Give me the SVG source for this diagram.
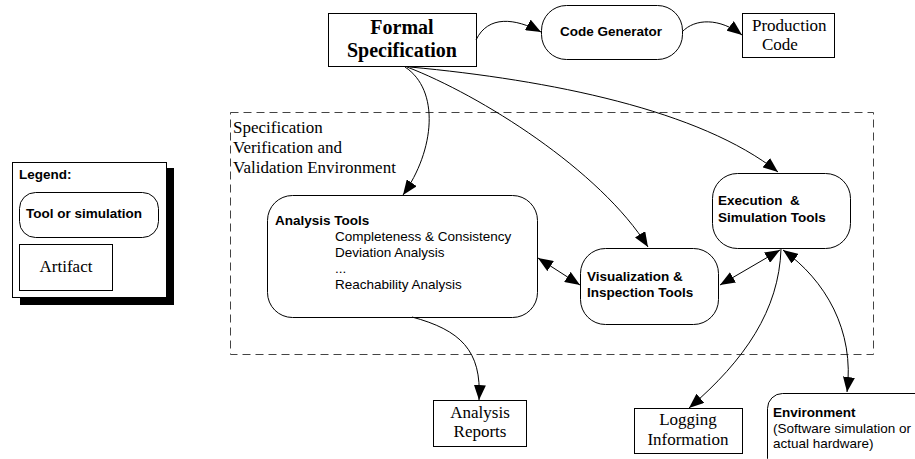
<svg xmlns="http://www.w3.org/2000/svg" width="915" height="459" viewBox="0 0 915 459">
<style>
.box{fill:#fff;stroke:#000;stroke-width:1}
.serif{font-family:"Liberation Serif","Times New Roman",serif;font-size:17px;fill:#000}
.sans{font-family:"Liberation Sans",Arial,sans-serif;font-size:13.5px;fill:#000}
.b{font-weight:bold}
.c{text-anchor:middle}
.edge{fill:none;stroke:#000;stroke-width:1}
</style>
<defs>
<marker id="ah" markerUnits="userSpaceOnUse" markerWidth="16" markerHeight="12" refX="15" refY="6" orient="auto-start-reverse" viewBox="0 0 16 12">
<path d="M0,0 L15,6 L0,12 z" fill="#000"/>
</marker>
</defs>
<rect width="915" height="459" fill="#fff"/>

<g id="container">
<rect x="230.5" y="112.5" width="643" height="242" fill="none" stroke="#444" stroke-dasharray="8,5"/>
<text class="serif" x="233" y="133">Specification</text>
<text class="serif" x="233" y="153">Verification and</text>
<text class="serif" x="233" y="173">Validation Environment</text>
</g>

<g id="legend">
<rect x="20" y="168" width="154" height="137" fill="#000"/>
<rect class="box" x="12.5" y="162.5" width="154" height="135"/>
<text class="sans b" x="19" y="179">Legend:</text>
<rect class="box" x="19.5" y="192.5" width="139" height="45" rx="16"/>
<text class="sans b" x="26" y="218">Tool or simulation</text>
<rect class="box" x="19.5" y="244.5" width="93" height="46"/>
<text class="serif c" x="66" y="272">Artifact</text>
</g>

<g id="formal-spec">
<rect class="box" x="328.5" y="13.5" width="148" height="53"/>
<text class="serif b c" x="402" y="34" style="font-size:20px">Formal</text>
<text class="serif b c" x="402" y="57" style="font-size:20px">Specification</text>
</g>

<g id="code-generator">
<rect class="box" x="541.5" y="5.5" width="141" height="54" rx="25"/>
<text class="sans b c" x="611" y="36">Code Generator</text>
</g>

<g id="production-code">
<rect class="box" x="742.5" y="13.5" width="92" height="44"/>
<text class="serif" x="752" y="31">Production</text>
<text class="serif" x="762" y="50">Code</text>
</g>

<g id="analysis-tools">
<rect class="box" x="267.5" y="195.5" width="270" height="122" rx="25"/>
<text class="sans b" x="275" y="225">Analysis Tools</text>
<text class="sans" x="335" y="241">Completeness &amp; Consistency</text>
<text class="sans" x="335" y="257">Deviation Analysis</text>
<text class="sans" x="335" y="273">...</text>
<text class="sans" x="335" y="289">Reachability Analysis</text>
</g>

<g id="visualization">
<rect class="box" x="580.5" y="248.5" width="138" height="76" rx="25"/>
<text class="sans b" x="587" y="281">Visualization &amp;</text>
<text class="sans b" x="587" y="297">Inspection Tools</text>
</g>

<g id="execution">
<rect class="box" x="712.5" y="173.5" width="138" height="75" rx="25"/>
<text class="sans b" x="718" y="205" xml:space="preserve">Execution  &amp;</text>
<text class="sans b" x="718" y="222">Simulation Tools</text>
</g>

<g id="analysis-reports">
<rect class="box" x="433.5" y="400.5" width="93" height="46"/>
<text class="serif c" x="480" y="418">Analysis</text>
<text class="serif c" x="480" y="437">Reports</text>
</g>

<g id="logging">
<rect class="box" x="634.5" y="408.5" width="108" height="45"/>
<text class="serif c" x="688" y="425">Logging</text>
<text class="serif c" x="688" y="445">Information</text>
</g>

<g id="environment">
<rect class="box" x="767.5" y="393.5" width="170" height="80" rx="15"/>
<text class="sans b" x="773" y="417">Environment</text>
<text class="sans" x="773" y="433">(Software simulation or</text>
<text class="sans" x="773" y="448">actual hardware)</text>
</g>

<g id="connectors">
<path class="edge" d="M476,40 C488,15 515,18 541,32" marker-end="url(#ah)"/>
<path class="edge" d="M682,32 C695,18 720,18 742,35" marker-end="url(#ah)"/>
<path class="edge" d="M405,67 C440,90 435,150 403,195" marker-end="url(#ah)"/>
<path class="edge" d="M407,67 C480,95 600,170 648,247" marker-end="url(#ah)"/>
<path class="edge" d="M410,67 C550,80 700,110 778,172" marker-end="url(#ah)"/>
<path class="edge" d="M538,258 L580,285" marker-start="url(#ah)" marker-end="url(#ah)"/>
<path class="edge" d="M720,285 L780,250" marker-start="url(#ah)" marker-end="url(#ah)"/>
<path class="edge" d="M781,249 C779,310 745,360 689,408" marker-end="url(#ah)"/>
<path class="edge" d="M783,250 C825,280 855,330 847,392" marker-start="url(#ah)" marker-end="url(#ah)"/>
<path class="edge" d="M412,317 C460,330 482,350 479,400" marker-end="url(#ah)"/>
</g>
</svg>
